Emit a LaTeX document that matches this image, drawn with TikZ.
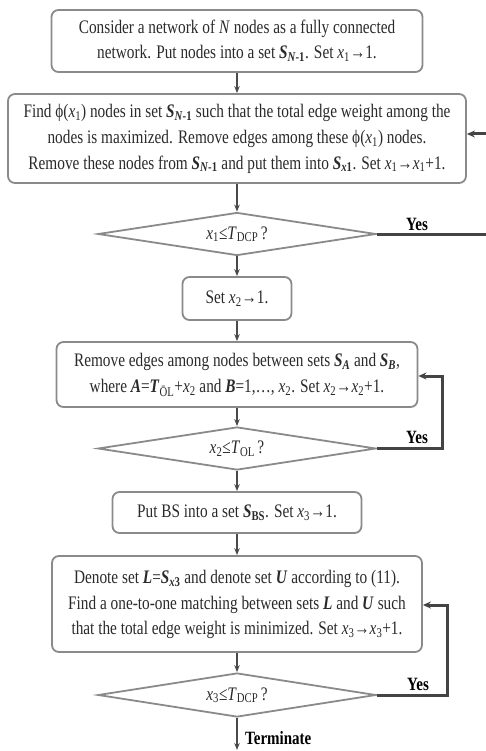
\documentclass[tikz,border=0pt]{standalone}
\usepackage{fontspec}
\setmainfont{Liberation Serif}
\usetikzlibrary{shapes.geometric,arrows.meta}
\definecolor{boxline}{HTML}{8A8A8A}
\definecolor{arrowc}{HTML}{4A4A4A}
\definecolor{loopc}{HTML}{444444}
\definecolor{txt}{HTML}{2A2A2A}
\newcommand{\vx}[1]{\textit{x}\textsubscript{#1}}
\newcommand{\bS}[1]{\textbf{\textit{S}}\textsubscript{\textbf{#1}}}
\newcommand{\bi}[1]{\textbf{\textit{#1}}}
\newcommand{\tall}[1]{\scalebox{1}[1.25]{\begin{tabular}{@{}c@{}}#1\end{tabular}}}
\begin{document}
\begin{tikzpicture}[x=1pt,y=-1pt,
  font=\fontsize{15.3}{20.5}\selectfont,
  procbox/.style={draw=boxline,line width=1.8pt,rounded corners=7pt,inner sep=0pt,text=txt,align=center},
  decbox/.style={draw=boxline,line width=1.8pt,diamond,inner sep=0pt,text=txt},
  flow/.style={draw=arrowc,line width=1.1pt,-{Stealth[length=7pt,width=5.5pt]}},
  loopline/.style={draw=loopc,line width=3pt,-{Stealth[length=8pt,width=7pt]}},
  yeslab/.style={font=\fontsize{15}{18}\selectfont\bfseries,text=black,inner sep=0pt}]
\useasboundingbox (0,0) rectangle (486,751);
\clip (0,0) rectangle (486,751);
\node[procbox,minimum width=371pt,minimum height=62pt] (b1) at (237,41)
  {\tall{Consider a network of \textit{N} nodes as a fully connected\\network. Put nodes into a set \bS{\textit{N}-1}. Set \vx1→1.}};
\node[procbox,minimum width=458pt,minimum height=89pt] (b2) at (237,138.5)
  {\tall{Find ϕ(\vx1) nodes in set \bS{\textit{N}-1} such that the total edge weight among the\\nodes is maximized. Remove edges among these ϕ(\vx1) nodes.\\Remove these nodes from \bS{\textit{N}-1} and put them into \bS{\textit{x}1}. Set \vx1→\vx1+1.}};
\node[decbox,minimum width=278pt,minimum height=43pt,aspect=6.4] (d1) at (237,234)
  {\tall{\vx1≤\textit{T}\textsubscript{DCP}\,?}};
\node[procbox,minimum width=109pt,minimum height=43pt] (b3) at (237,298.5)
  {\tall{Set \vx2→1.}};
\node[procbox,minimum width=361pt,minimum height=65pt] (b4) at (237,374.5)
  {\tall{Remove edges among nodes between sets \bS{\textit{A}} and \bS{\textit{B}},\\where \bi{A}=\bi{T}\textsubscript{ŌL}+\vx2 and \bi{B}=1,…, \vx2. Set \vx2→\vx2+1.}};
\node[decbox,minimum width=278pt,minimum height=43pt,aspect=6.4] (d2) at (237,448.5)
  {\tall{\vx2≤\textit{T}\textsubscript{OL}\,?}};
\node[procbox,minimum width=249pt,minimum height=41pt] (b5) at (237,512.5)
  {\tall{Put BS into a set \bS{BS}. Set \vx3→1.}};
\node[procbox,minimum width=370pt,minimum height=96pt] (b6) at (237,604)
  {\tall{Denote set \bi{L}=\bS{\textit{x}3} and denote set \bi{U} according to (11).\\Find a one-to-one matching between sets \bi{L} and \bi{U} such\\that the total edge weight is minimized. Set \vx3→\vx3+1.}};
\node[decbox,minimum width=278pt,minimum height=44pt,aspect=6.4] (d3) at (237,695)
  {\tall{\vx3≤\textit{T}\textsubscript{DCP}\,?}};
\coordinate (term) at (237,750);
\coordinate (l1) at (492,234);
\coordinate (l2) at (442,448.5);
\coordinate (l3) at (447,695);
% main flow
\draw[flow] (b1) -- (b2);
\draw[flow] (b2) -- (d1);
\draw[flow] (d1) -- (b3);
\draw[flow] (b3) -- (b4);
\draw[flow] (b4) -- (d2);
\draw[flow] (d2) -- (b5);
\draw[flow] (b5) -- (b6);
\draw[flow] (b6) -- (d3);
\draw[flow] (d3) -- (term);
% loops
\draw[loopline] (d1.east) -- (l1) |- ([yshift=4.5pt]b2.east);
\draw[loopline] (d2.east) -- (l2) |- ([yshift=-1.5pt]b4.east);
\draw[loopline] (d3.east) -- (l3) |- ([yshift=-1pt]b6.east);
% labels
\node[yeslab] (y1) at (417,224) {\scalebox{1}[1.25]{Yes}};
\node[yeslab] (y2) at (417,437) {\scalebox{1}[1.25]{Yes}};
\node[yeslab] (y3) at (418,684) {\scalebox{1}[1.25]{Yes}};
\node[yeslab,anchor=west] (tl) at (245,738) {\scalebox{1}[1.25]{Terminate}};
\end{tikzpicture}
\end{document}
